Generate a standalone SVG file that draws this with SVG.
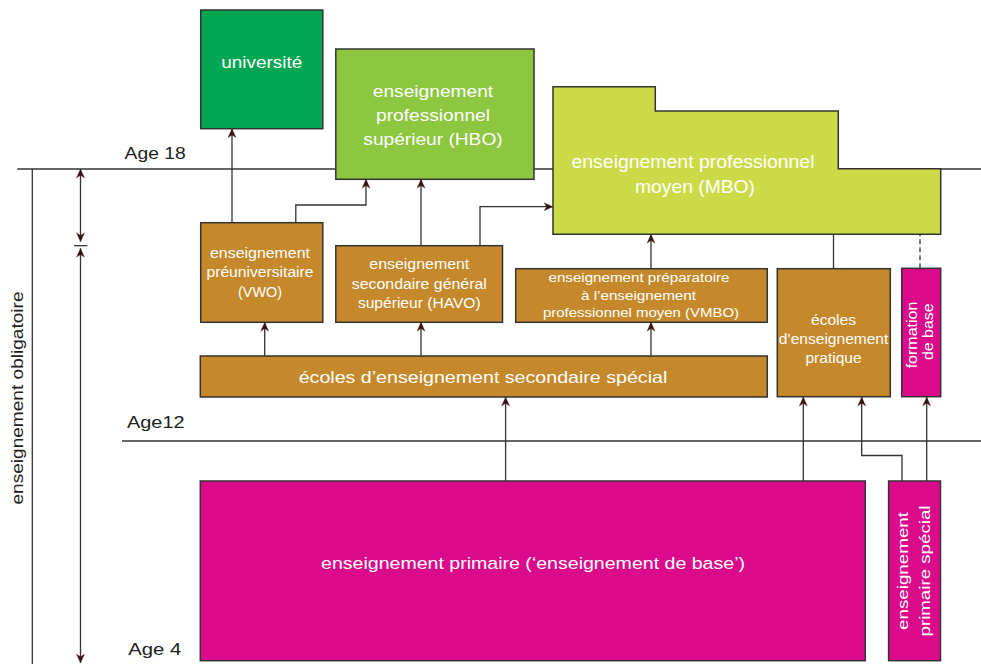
<svg xmlns="http://www.w3.org/2000/svg" width="981" height="664" viewBox="0 0 981 664">
<defs>
<style>
.bx{stroke:#333;stroke-width:1.5}
.g1{fill:#00A651}.g2{fill:#8DC63F}.g3{fill:#CBDB47}.br{fill:#C5892B}.mg{fill:#DB0A8B}
.t{font-family:"Liberation Sans",Arial,sans-serif;fill:#fff;text-anchor:middle}
.age{font-family:"Liberation Sans",Arial,sans-serif;fill:#222;font-size:17px}
.ln{fill:none;stroke:#333;stroke-width:1.3}
.ar{marker-end:url(#ah)}
</style>
<marker id="ah" viewBox="0 0 10 10" refX="10" refY="5" markerWidth="10" markerHeight="9" markerUnits="userSpaceOnUse" orient="auto-start-reverse">
<path d="M0,0.5 L10,5 L0,9.5 L3,5 z" fill="#2a1414" stroke="#7a3030" stroke-width="0.4"/>
</marker>
</defs>
<rect width="981" height="664" fill="#fff"/>

<g id="axes">
<path class="ln" d="M17.3,169 H981"/>
<path class="ln" d="M122,441 H981"/>
<path class="ln" d="M32.3,169 V664"/>
<path class="ln" d="M80.5,169 V241.7" marker-start="url(#ah)" marker-end="url(#ah)"/>
<path class="ln" d="M74,245.7 H87.3"/>
<path class="ln" d="M80.5,248.3 V663" marker-start="url(#ah)" marker-end="url(#ah)"/>
<text class="age" x="124.6" y="159.3" textLength="61" lengthAdjust="spacingAndGlyphs">Age 18</text>
<text class="age" x="127" y="428.3" textLength="57.6" lengthAdjust="spacingAndGlyphs">Age12</text>
<text class="age" x="128.3" y="655" textLength="53" lengthAdjust="spacingAndGlyphs">Age 4</text>
<text class="age" transform="translate(23,398) rotate(-90)" text-anchor="middle" font-size="16" textLength="213" lengthAdjust="spacingAndGlyphs">enseignement obligatoire</text>
</g>

<g id="connectors">
<path class="ln ar" d="M232,222.7 V128.7"/>
<path class="ln ar" d="M295.8,222.7 V205 H366 V179.3"/>
<path class="ln ar" d="M421,245.7 V179.3"/>
<path class="ln ar" d="M480,245.7 V206.7 H553"/>
<path class="ln ar" d="M651,268.7 V234.3"/>
<path class="ln" d="M833.5,268.7 V234.3"/>
<path class="ln" d="M920,268.3 V234.3" stroke-dasharray="5,3"/>
<path class="ln ar" d="M264.7,356 V322.3"/>
<path class="ln ar" d="M421,356 V322.3"/>
<path class="ln ar" d="M651,356 V322.3"/>
<path class="ln ar" d="M505.6,481 V397"/>
<path class="ln ar" d="M803.3,481 V397"/>
<path class="ln ar" d="M902,481 V455.5 H861.7 V397"/>
<path class="ln ar" d="M926.7,481 V397"/>
</g>

<g id="universite">
<rect class="bx g1" x="200.7" y="10" width="122.1" height="118.7"/>
<text class="t" x="261.8" y="68" font-size="17" textLength="81" lengthAdjust="spacingAndGlyphs">université</text>
</g>

<g id="hbo">
<rect class="bx g2" x="335.8" y="49" width="198.2" height="130.3"/>
<text class="t" x="433" y="96.7" font-size="17" textLength="120.4" lengthAdjust="spacingAndGlyphs">enseignement</text>
<text class="t" x="433" y="120.7" font-size="17" textLength="114" lengthAdjust="spacingAndGlyphs">professionnel</text>
<text class="t" x="433" y="145" font-size="17" textLength="139.3" lengthAdjust="spacingAndGlyphs">supérieur (HBO)</text>
</g>

<g id="mbo">
<path class="bx g3" d="M553,86.7 H655.3 V111 H838.3 V168.7 H940.7 V234.3 H553 Z"/>
<text class="t" x="693" y="167.7" font-size="18" textLength="243" lengthAdjust="spacingAndGlyphs">enseignement professionnel</text>
<text class="t" x="695" y="192.7" font-size="18" textLength="120" lengthAdjust="spacingAndGlyphs">moyen (MBO)</text>
</g>

<g id="vwo">
<rect class="bx br" x="200.7" y="222.7" width="122.1" height="99.6"/>
<text class="t" x="260" y="257.7" font-size="14" textLength="100" lengthAdjust="spacingAndGlyphs">enseignement</text>
<text class="t" x="260" y="277.3" font-size="14" textLength="107" lengthAdjust="spacingAndGlyphs">préuniversitaire</text>
<text class="t" x="260" y="296.7" font-size="14" textLength="43.9" lengthAdjust="spacingAndGlyphs">(VWO)</text>
</g>

<g id="havo">
<rect class="bx br" x="335.8" y="245.7" width="166.7" height="76.6"/>
<text class="t" x="419.3" y="269.3" font-size="14" textLength="100" lengthAdjust="spacingAndGlyphs">enseignement</text>
<text class="t" x="419.3" y="288.7" font-size="14" textLength="135" lengthAdjust="spacingAndGlyphs">secondaire général</text>
<text class="t" x="419.3" y="308.3" font-size="14" textLength="122.8" lengthAdjust="spacingAndGlyphs">supérieur (HAVO)</text>
</g>

<g id="vmbo">
<rect class="bx br" x="515.7" y="268.7" width="251.6" height="53.6"/>
<text class="t" x="639" y="282" font-size="13" textLength="181" lengthAdjust="spacingAndGlyphs">enseignement préparatoire</text>
<text class="t" x="638.5" y="299.5" font-size="13" textLength="115" lengthAdjust="spacingAndGlyphs">à l’enseignement</text>
<text class="t" x="641" y="316.7" font-size="13" textLength="196" lengthAdjust="spacingAndGlyphs">professionnel moyen (VMBO)</text>
</g>

<g id="pratique">
<rect class="bx br" x="777.3" y="268.7" width="113" height="128"/>
<text class="t" x="833.5" y="325" font-size="14" textLength="45" lengthAdjust="spacingAndGlyphs">écoles</text>
<text class="t" x="833.5" y="344" font-size="14" textLength="109.7" lengthAdjust="spacingAndGlyphs">d’enseignement</text>
<text class="t" x="833.5" y="363" font-size="14" textLength="56" lengthAdjust="spacingAndGlyphs">pratique</text>
</g>

<g id="formation">
<rect class="bx mg" x="901.7" y="268.3" width="39" height="128.4"/>
<text class="t" transform="translate(916.5,335) rotate(-90)" font-size="14" textLength="66.7" lengthAdjust="spacingAndGlyphs">formation</text>
<text class="t" transform="translate(932.5,331.7) rotate(-90)" font-size="14" textLength="56.7" lengthAdjust="spacingAndGlyphs">de base</text>
</g>

<g id="secondaire-special">
<rect class="bx br" x="200.3" y="356" width="567" height="41"/>
<text class="t" x="483" y="383.3" font-size="17" textLength="368.6" lengthAdjust="spacingAndGlyphs">écoles d’enseignement secondaire spécial</text>
</g>

<g id="primaire">
<rect class="bx mg" x="200.3" y="481" width="665" height="179.7"/>
<text class="t" x="533" y="569.3" font-size="17" textLength="424" lengthAdjust="spacingAndGlyphs">enseignement primaire (‘enseignement de base’)</text>
</g>

<g id="primaire-special">
<rect class="bx mg" x="888.6" y="481" width="51.9" height="179.7"/>
<text class="t" transform="translate(908,571) rotate(-90)" font-size="15" textLength="118" lengthAdjust="spacingAndGlyphs">enseignement</text>
<text class="t" transform="translate(930,571) rotate(-90)" font-size="15" textLength="131" lengthAdjust="spacingAndGlyphs">primaire spécial</text>
</g>
</svg>
